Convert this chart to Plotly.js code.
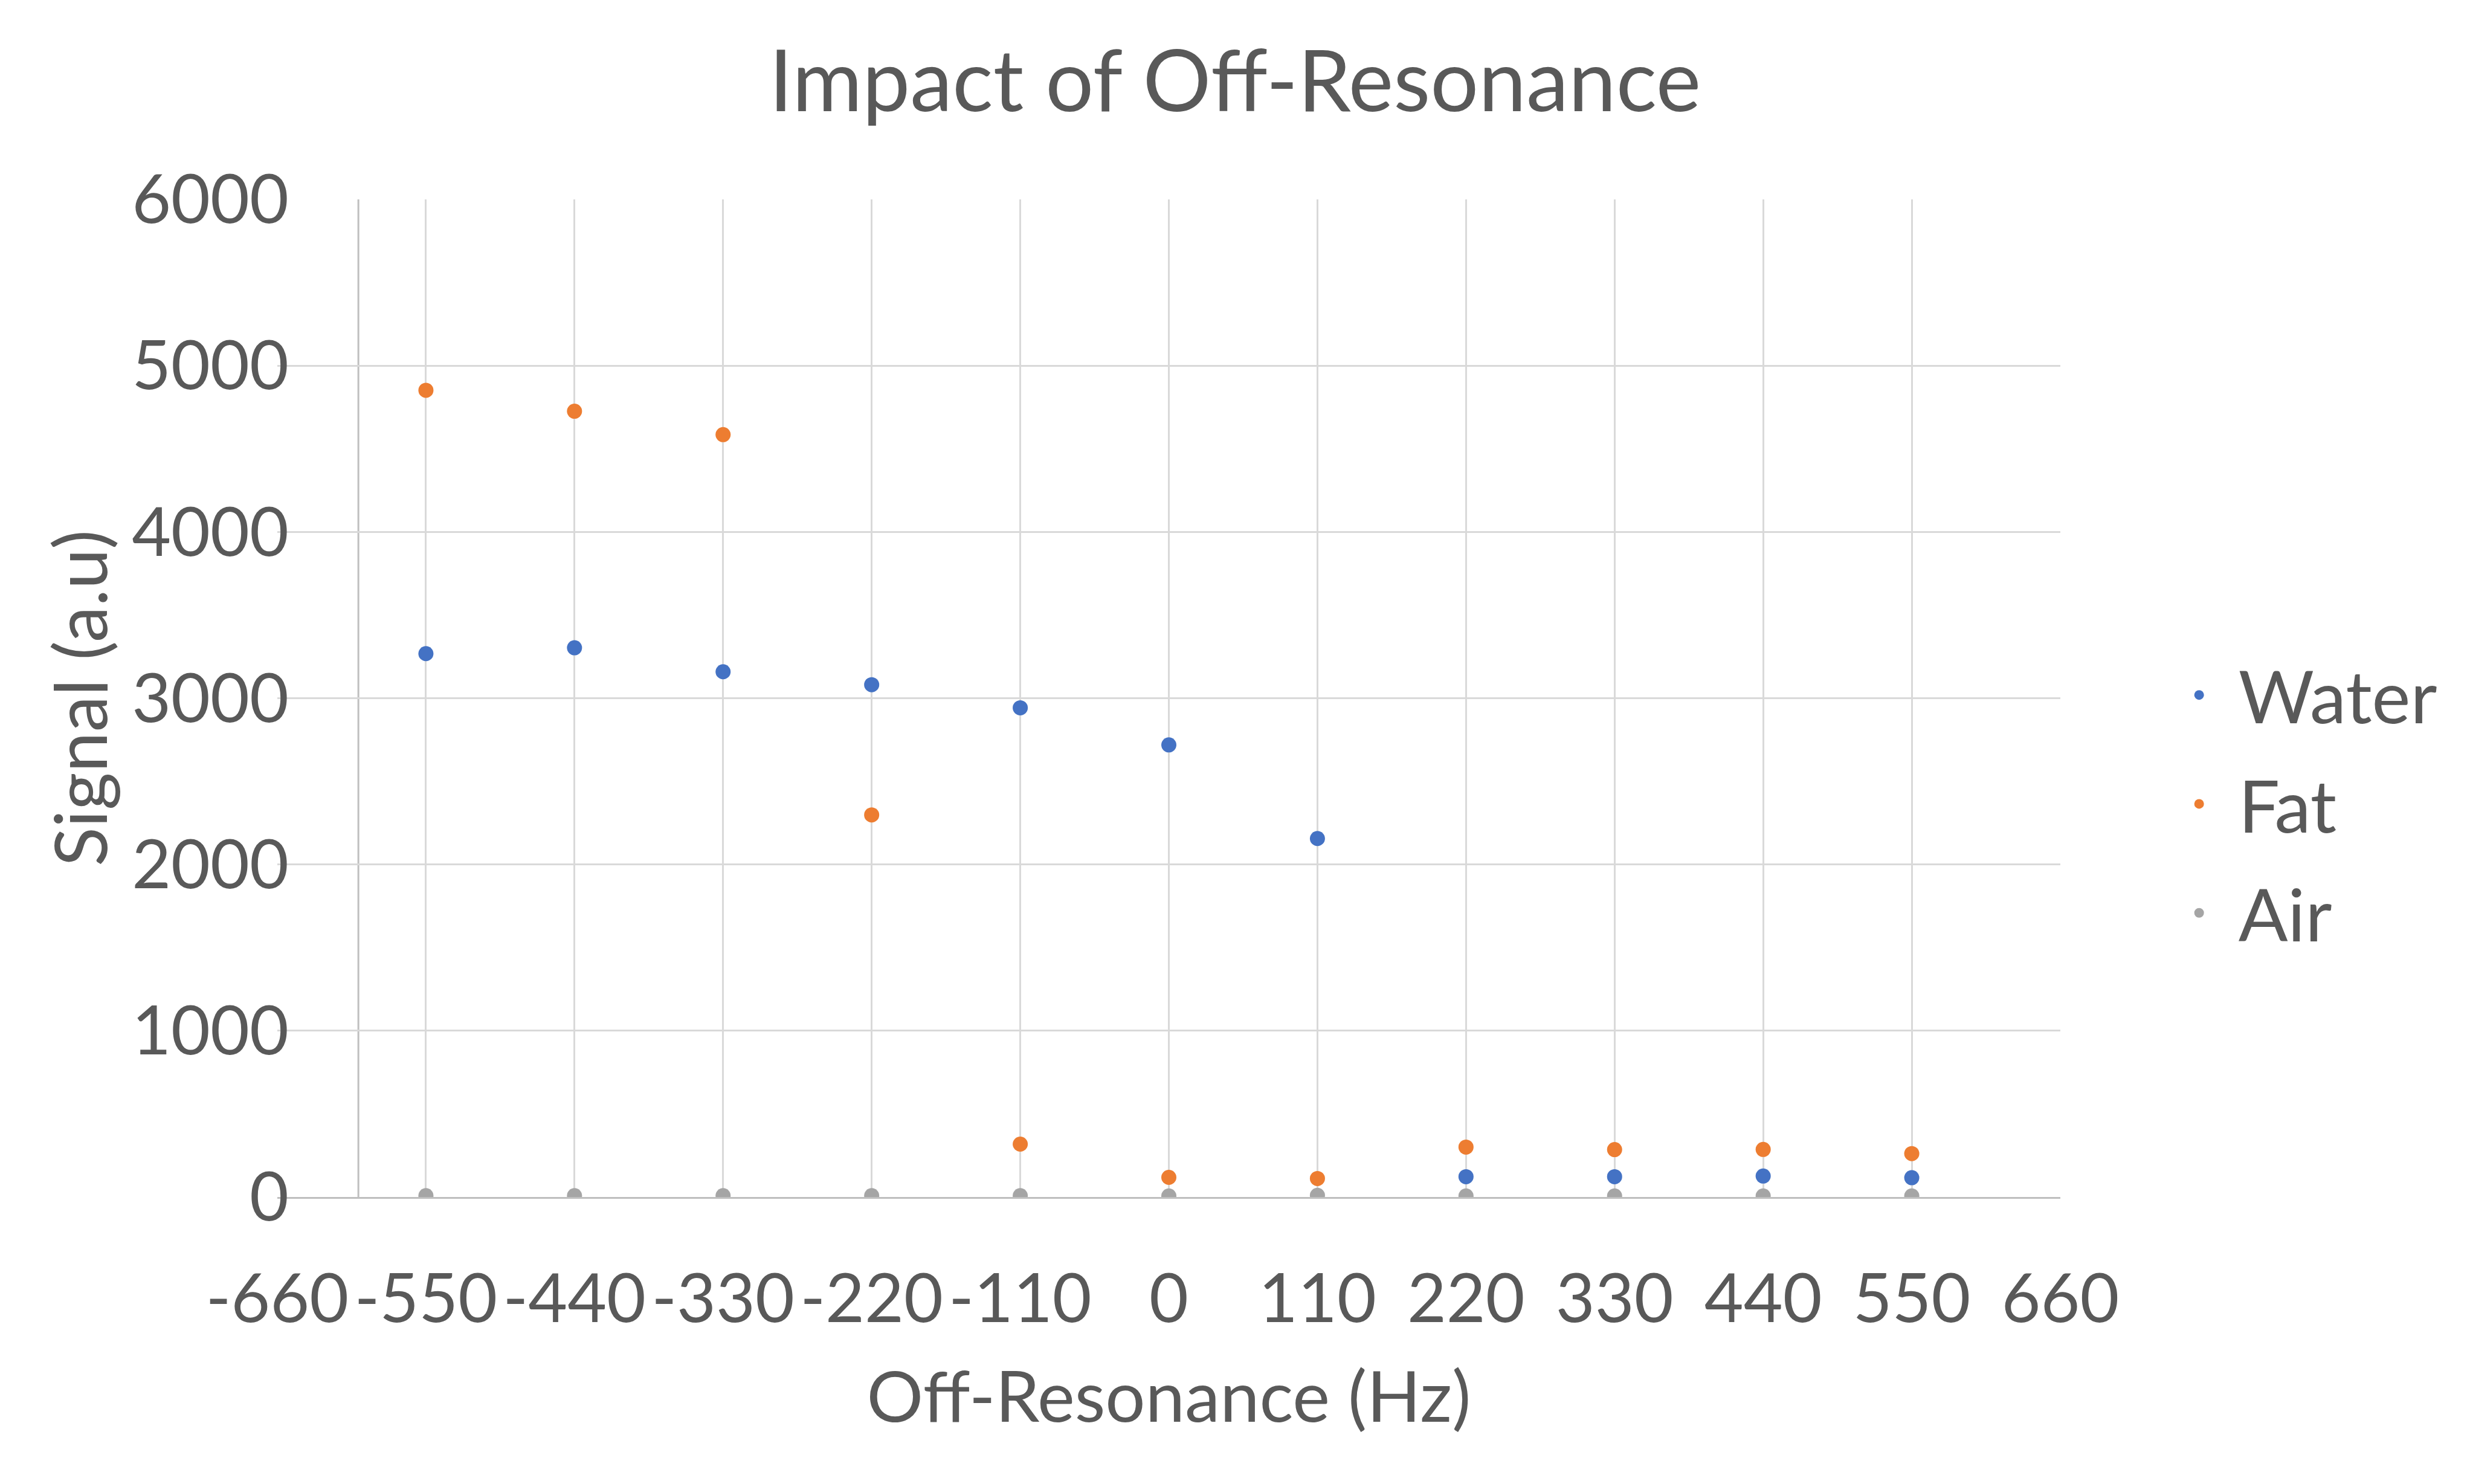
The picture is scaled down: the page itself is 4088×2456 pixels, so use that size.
<!DOCTYPE html>
<html>
<head>
<meta charset="utf-8">
<script src="https://cdn.plot.ly/plotly-3.0.1.min.js"></script>
<style>html,body{margin:0;padding:0;background:#fff;}#chart{width:4088px;height:2456px;}</style>
</head>
<body>
<div id="chart"></div>
<script>
var offResonance = [-550, -440, -330, -220, -110, 0, 110, 220, 330, 440, 550];
var water = [3268, 3303, 3159, 3081, 2942, 2719, 2156, 122, 122, 126, 116];
var fat = [4852, 4726, 4585, 2298, 318, 118, 111, 300, 285, 286, 261];
var air = [8, 8, 8, 8, 8, 6, 10, 6, 6, 6, 6];
var seriesNames = ['Water', 'Fat', 'Air'];
var seriesColors = ['#4472C4', '#ED7D31', '#A5A5A5'];
var xTickVals = [-660, -550, -440, -330, -220, -110, 0, 110, 220, 330, 440, 550, 660];
var xTickText = ['-660', '-550', '-440', '-330', '-220', '-110', '0', '110', '220', '330', '440', '550', '660'];
var yAxisCross = -600;

var FONT = 'Lato, "Open Sans", sans-serif';
var TXT = '#595959';
var data = [water, fat, air].map(function (vals, i) {
  return {
    type: 'scatter', mode: 'markers', name: seriesNames[i],
    x: offResonance, y: vals, legendgroup: 'g' + i,
    marker: {color: seriesColors[i], size: 25}
  };
});

var layout = {
  width: 4088, height: 2456,
  paper_bgcolor: '#ffffff', plot_bgcolor: '#ffffff',
  margin: {l: 459, r: 678, t: 330, b: 475},
  font: {family: FONT, color: TXT, size: 108},
  title: {text: 'Impact of Off-Resonance', font: {family: FONT, size: 141, color: TXT},
          x: 0.5, xref: 'container', y: 0.945, yref: 'container', yanchor: 'middle'},
  xaxis: {
    range: [-660, 660], tickmode: 'array', tickvals: xTickVals, ticktext: xTickText,
    tickangle: 0, zeroline: false,
    showgrid: true, gridcolor: '#D9D9D9', gridwidth: 3,
    showline: true, linecolor: '#BFBFBF', linewidth: 3,
    ticks: 'outside', ticklen: 70, tickcolor: 'rgba(0,0,0,0)',
    tickfont: {family: FONT, size: 112, color: TXT},
    title: {text: 'Off-Resonance (Hz)', font: {family: FONT, size: 117, color: TXT}, standoff: 60},
    automargin: false, fixedrange: true
  },
  yaxis: {
    range: [0, 6000], tick0: 0, dtick: 1000, zeroline: false,
    showgrid: true, gridcolor: '#D9D9D9', gridwidth: 3,
    showline: false,
    ticks: '', ticklabelstandoff: -20,
    tickfont: {family: FONT, size: 112, color: TXT},
    title: {text: 'Signal (a.u)', font: {family: FONT, size: 120, color: TXT}, standoff: 0},
    automargin: false, fixedrange: true
  },
  shapes: [{type: 'line', xref: 'x', yref: 'paper', x0: yAxisCross, x1: yAxisCross, y0: 0, y1: 1,
            line: {color: '#BFBFBF', width: 3}, layer: 'below'}],
  legend: {x: 1.0558, xanchor: 'left', y: 0.394, yanchor: 'middle', itemwidth: 120,
           font: {family: FONT, size: 121, color: TXT}, tracegroupgap: 20,
           bgcolor: 'rgba(0,0,0,0)'},
  showlegend: true
};
Plotly.newPlot('chart', data, layout, {displayModeBar: false, staticPlot: true});
</script>
</body>
</html>
